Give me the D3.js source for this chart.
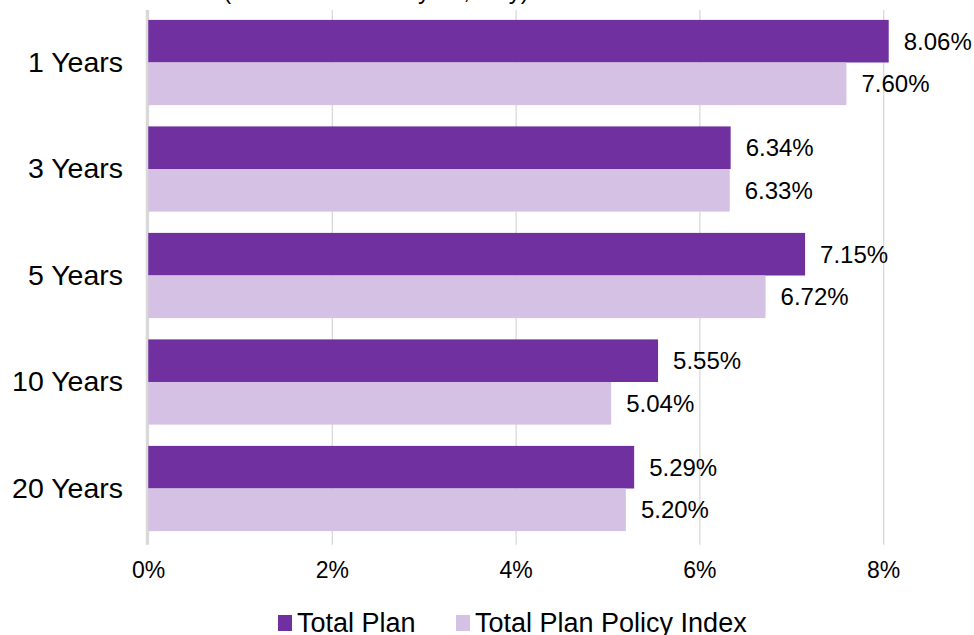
<!DOCTYPE html>
<html>
<head>
<meta charset="utf-8">
<script src="https://cdn.jsdelivr.net/npm/d3@7"></script>
<style>
  html, body { margin: 0; padding: 0; background: #fff; }
  svg { display: block; font-family: Arial, "Liberation Sans", sans-serif; }
</style>
</head>
<body>
<svg id="chart" width="974" height="635"></svg>
<script>
const categories = ["1 Years", "3 Years", "5 Years", "10 Years", "20 Years"];
const seriesNames = ["Total Plan", "Total Plan Policy Index"];
const totalPlan = [8.06, 6.34, 7.15, 5.55, 5.29];
const policyIndex = [7.60, 6.33, 6.72, 5.04, 5.20];
const xTicks = [0, 2, 4, 6, 8];
const titleText = "(Returns for fiscal year, only)";

const colors = ["#7030A0", "#D5C1E3"];
const svg = d3.select("#chart");

const plot = { left: 148, top: 9.25, bottom: 541.75 };
const x = d3.scaleLinear().domain([0, 8]).range([plot.left, plot.left + 8 * 91.9]);
const y = d3.scaleBand().domain(categories).range([plot.top, plot.bottom]).paddingInner(0.2).paddingOuter(0.1);
const ySub = d3.scaleBand().domain(seriesNames).range([0, y.bandwidth()]).padding(0);

// title (mostly clipped at the top)
svg.append("text")
  .attr("x", 376).attr("y", -1)
  .attr("text-anchor", "middle")
  .attr("font-size", 24)
  .attr("fill", "#000")
  .text(titleText);

// gridlines
const gridG = svg.append("g").attr("transform", `translate(0,${plot.bottom + 3})`);
gridG.call(d3.axisBottom(x).tickValues(xTicks).tickSize(-(plot.bottom + 3 - 10)).tickFormat(""))
  .call(g => g.select(".domain").remove())
  .call(g => g.selectAll(".tick line").attr("stroke", "#d9d9d9").attr("stroke-width", 1.3));

// bars
const data = categories.map((c, i) => ({ cat: c, vals: [totalPlan[i], policyIndex[i]] }));
const groups = svg.append("g").selectAll("g").data(data).join("g")
  .attr("transform", d => `translate(0,${y(d.cat)})`);

groups.selectAll("rect").data(d => d.vals.map((v, j) => ({ v, s: seriesNames[j], j })))
  .join("rect")
  .attr("x", x(0))
  .attr("y", d => ySub(d.s))
  .attr("width", d => x(d.v) - x(0))
  .attr("height", ySub.bandwidth())
  .attr("fill", d => colors[d.j]);

groups.selectAll("text.val").data(d => d.vals.map((v, j) => ({ v, s: seriesNames[j], j })))
  .join("text")
  .attr("class", "val")
  .attr("x", d => x(d.v) + 15)
  .attr("y", d => ySub(d.s) + ySub.bandwidth() / 2)
  .attr("dy", "0.36em")
  .attr("font-size", 24)
  .attr("fill", "#000")
  .text(d => d.v.toFixed(2) + "%");

// left axis line
svg.append("line")
  .attr("x1", x(0) - 1).attr("x2", x(0) - 1)
  .attr("y1", 10).attr("y2", plot.bottom + 3)
  .attr("stroke", "#d9d9d9").attr("stroke-width", 2.5);

// category labels
const yAxis = svg.append("g").attr("transform", `translate(123,0)`)
  .call(d3.axisLeft(y).tickSize(0).tickPadding(0))
  .call(g => g.select(".domain").remove());
yAxis.selectAll("text").attr("font-size", 28.5).attr("fill", "#000")
  .attr("font-family", "Arial, 'Liberation Sans', sans-serif");

// x tick labels
const xAxis = svg.append("g").attr("transform", `translate(0,562)`)
  .call(d3.axisBottom(x).tickValues(xTicks).tickSize(0).tickPadding(0).tickFormat(d => d + "%"))
  .call(g => g.select(".domain").remove());
xAxis.selectAll("text").attr("font-size", 23).attr("fill", "#000")
  .attr("font-family", "Arial, 'Liberation Sans', sans-serif");

// legend
const legendItems = [
  { name: seriesNames[0], color: colors[0], x: 278 },
  { name: seriesNames[1], color: colors[1], x: 456 }
];
const lg = svg.append("g").selectAll("g").data(legendItems).join("g")
  .attr("transform", d => `translate(${d.x},0)`);
lg.append("rect").attr("x", 0).attr("y", 615).attr("width", 14).attr("height", 16).attr("fill", d => d.color);
lg.append("text").attr("x", 19).attr("y", 632).attr("font-size", 27).attr("fill", "#000").text(d => d.name);
</script>
</body>
</html>
